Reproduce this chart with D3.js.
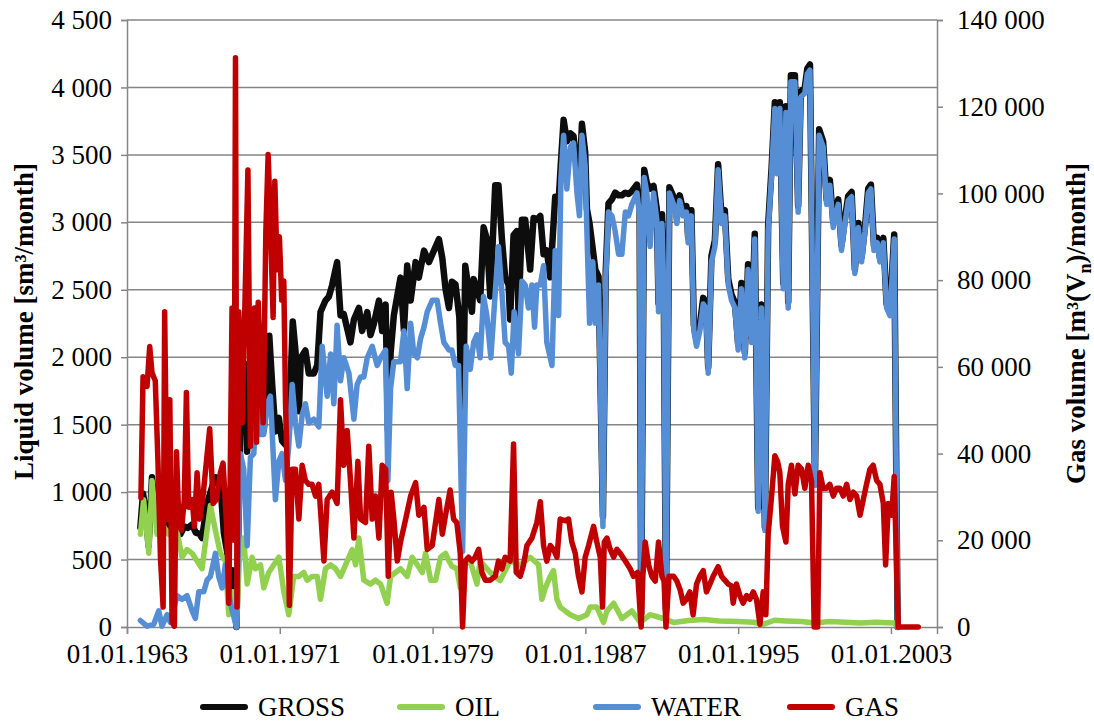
<!DOCTYPE html>
<html>
<head>
<meta charset="utf-8">
<script src="https://cdn.jsdelivr.net/npm/d3@7"></script>
<style>
  html, body { margin: 0; padding: 0; background: #fff; }
  svg { display: block; }
  text { font-family: "Liberation Serif", "Times New Roman", serif; fill: #000; }
</style>
</head>
<body>
<svg id="chart" width="1094" height="722"></svg>
<script>
// Monthly production history, [decimal year, value]
const gross = [[1963.70,740],[1963.84,990],[1963.97,870],[1964.13,600],[1964.31,1110],[1964.45,880],[1964.57,800],[1964.75,760],[1964.92,745],[1965.10,760],[1965.35,720],[1965.60,700],[1965.80,690],[1966.00,745],[1966.20,735],[1966.41,760],[1966.60,700],[1966.80,690],[1966.93,660],[1967.19,910],[1967.37,1000],[1967.55,1080],[1967.65,1110],[1967.89,1060],[1968.07,700],[1968.24,560],[1968.40,300],[1968.55,420],[1968.73,0],[1968.94,1500],[1969.11,1700],[1969.20,1950],[1969.29,1300],[1969.46,1650],[1969.64,1900],[1969.81,2050],[1969.99,1800],[1970.16,1460],[1970.34,1800],[1970.45,2160],[1970.60,1800],[1970.77,1450],[1970.95,1550],[1971.12,1380],[1971.30,1350],[1971.47,1450],[1971.68,2265],[1971.82,2050],[1972.00,1600],[1972.10,1995],[1972.34,2050],[1972.52,1880],[1972.78,1880],[1972.96,1940],[1973.13,2335],[1973.39,2420],[1973.57,2450],[1973.74,2535],[1974.00,2705],[1974.18,2310],[1974.35,2320],[1974.70,2110],[1974.88,2280],[1975.14,2365],[1975.31,2195],[1975.58,2335],[1975.75,2165],[1975.93,2250],[1976.19,2420],[1976.36,2195],[1976.54,2390],[1976.66,1460],[1976.80,2025],[1976.97,2310],[1977.32,2590],[1977.50,2195],[1977.67,2680],[1977.85,2420],[1978.11,2705],[1978.28,2590],[1978.55,2790],[1978.81,2705],[1979.07,2790],[1979.33,2875],[1979.51,2735],[1979.68,2505],[1979.86,2365],[1980.01,2560],[1980.20,2540],[1980.40,2300],[1980.57,1300],[1980.71,2678],[1980.88,2508],[1981.06,2337],[1981.15,2579],[1981.32,2508],[1981.49,2422],[1981.67,2963],[1981.84,2877],[1982.02,2451],[1982.28,3275],[1982.45,3275],[1982.63,2877],[1982.80,2593],[1982.98,2536],[1983.06,2280],[1983.24,2906],[1983.41,2934],[1983.50,2308],[1983.68,3019],[1983.85,3019],[1984.11,2650],[1984.29,3033],[1984.46,3019],[1984.64,3048],[1984.81,2763],[1984.98,2792],[1985.16,2593],[1985.42,3190],[1985.60,3161],[1985.72,3450],[1985.86,3760],[1986.03,3600],[1986.21,3660],[1986.38,3640],[1986.56,3400],[1986.69,3300],[1986.82,3730],[1986.99,3520],[1987.08,3100],[1987.22,2990],[1987.39,2800],[1987.52,2650],[1987.69,2600],[1987.92,820],[1988.07,2650],[1988.21,3140],[1988.39,3170],[1988.56,3220],[1988.74,3200],[1988.91,3200],[1989.09,3220],[1989.26,3210],[1989.43,3230],[1989.70,3280],[1989.84,3100],[1989.92,100],[1990.08,3390],[1990.22,3290],[1990.39,3250],[1990.57,3270],[1990.74,3100],[1990.83,2400],[1991.01,3060],[1991.10,2620],[1991.22,130],[1991.40,3260],[1991.62,3190],[1991.79,3060],[1991.94,3200],[1992.12,3090],[1992.29,3120],[1992.38,2890],[1992.55,3090],[1992.68,2240],[1992.82,2125],[1992.99,2240],[1993.17,2440],[1993.31,2410],[1993.43,1925],[1993.60,2750],[1993.78,2865],[1993.95,3430],[1994.13,3035],[1994.30,3090],[1994.48,2580],[1994.65,2465],[1994.83,2405],[1995.00,2095],[1995.17,2550],[1995.35,2035],[1995.52,2690],[1995.70,2150],[1995.87,2915],[1996.05,885],[1996.22,2390],[1996.40,736],[1996.57,2980],[1996.75,3405],[1996.92,3890],[1997.04,3405],[1997.18,3890],[1997.36,2550],[1997.50,3860],[1997.62,2410],[1997.76,4090],[1997.97,4090],[1998.14,3120],[1998.28,3970],[1998.49,4000],[1998.62,4140],[1998.76,4170],[1999.02,1080],[1999.24,3690],[1999.45,3600],[1999.63,3170],[1999.80,3315],[1999.98,3000],[2000.24,3170],[2000.41,2830],[2000.59,3025],[2000.76,3195],[2000.94,3225],[2001.11,2650],[2001.29,2995],[2001.46,2740],[2001.64,2965],[2001.81,3250],[2001.95,3280],[2002.11,2825],[2002.28,2885],[2002.42,2740],[2002.60,2885],[2002.77,2395],[2002.95,2340],[2003.17,2910],[2003.35,0]];

const oil = [[1963.70,688],[1963.87,944],[1964.14,546],[1964.31,1086],[1964.57,688],[1964.92,745],[1965.18,688],[1965.53,773],[1965.88,517],[1966.14,574],[1966.41,546],[1966.67,489],[1966.93,432],[1967.19,716],[1967.37,901],[1967.63,716],[1967.89,546],[1968.15,489],[1968.33,91],[1968.55,262],[1968.73,0],[1968.90,560],[1969.11,660],[1969.29,318],[1969.55,517],[1969.72,432],[1969.99,461],[1970.16,290],[1970.42,404],[1970.69,461],[1970.95,517],[1971.21,262],[1971.47,91],[1971.73,375],[1972.00,375],[1972.26,404],[1972.43,347],[1972.69,375],[1972.96,375],[1973.13,205],[1973.39,432],[1973.66,461],[1973.92,432],[1974.18,375],[1974.53,489],[1974.79,574],[1974.97,461],[1975.14,660],[1975.40,347],[1975.75,318],[1976.01,347],[1976.28,318],[1976.62,176],[1976.80,375],[1977.06,404],[1977.32,432],[1977.67,375],[1977.93,517],[1978.20,461],[1978.46,404],[1978.63,546],[1978.90,347],[1979.16,347],[1979.42,517],[1979.68,546],[1979.86,489],[1980.01,450],[1980.27,432],[1980.45,290],[1980.62,461],[1980.97,489],[1981.32,318],[1981.49,489],[1982.02,404],[1982.54,344],[1983.06,489],[1983.59,461],[1984.11,517],[1984.55,461],[1984.72,205],[1984.90,290],[1985.16,375],[1985.33,418],[1985.51,205],[1985.68,148],[1985.94,119],[1986.21,91],[1986.64,63],[1987.08,91],[1987.25,148],[1987.60,148],[1987.95,34],[1988.13,119],[1988.48,176],[1988.91,63],[1989.43,119],[1989.87,34],[1990.39,91],[1991.09,63],[1991.62,34],[1992.40,48],[1993.20,55],[1994.00,45],[1995.00,40],[1995.80,35],[1996.30,20],[1996.90,50],[1997.50,45],[1998.30,40],[1999.00,30],[1999.80,40],[2000.60,35],[2001.40,30],[2002.20,35],[2003.17,30],[2003.35,0]];

const water = [[1963.70,48],[1964.05,6],[1964.40,20],[1964.66,119],[1964.83,6],[1965.10,91],[1965.27,34],[1965.62,233],[1965.88,205],[1966.14,233],[1966.41,119],[1966.58,63],[1966.76,262],[1967.02,262],[1967.19,347],[1967.37,375],[1967.63,546],[1967.80,375],[1967.98,290],[1968.15,460],[1968.41,176],[1968.73,0],[1968.94,1285],[1969.11,1171],[1969.29,603],[1969.46,1257],[1969.64,1285],[1969.81,1797],[1969.99,1427],[1970.16,1427],[1970.34,1655],[1970.51,1711],[1970.77,944],[1970.95,1228],[1971.12,1285],[1971.30,1086],[1971.47,1342],[1971.65,1797],[1971.82,1512],[1972.00,1342],[1972.17,1569],[1972.34,1655],[1972.52,1512],[1972.78,1541],[1973.04,1484],[1973.22,2081],[1973.48,1711],[1973.66,2024],[1973.83,1655],[1974.00,2237],[1974.18,1825],[1974.35,1996],[1974.62,1882],[1974.88,1541],[1975.05,1797],[1975.23,1854],[1975.40,1854],[1975.58,1996],[1975.84,2081],[1976.10,1939],[1976.28,1996],[1976.54,2053],[1976.66,1086],[1976.80,1768],[1976.97,1967],[1977.32,1967],[1977.50,2195],[1977.67,1768],[1977.85,2252],[1978.02,2024],[1978.20,1996],[1978.37,2138],[1978.55,2223],[1978.72,2337],[1978.98,2422],[1979.24,2422],[1979.42,2252],[1979.59,2110],[1979.86,2053],[1980.01,2053],[1980.19,1939],[1980.36,1939],[1980.57,560],[1980.76,2081],[1980.97,1910],[1981.15,2110],[1981.32,2166],[1981.49,1996],[1981.67,2451],[1981.84,2309],[1982.05,1996],[1982.28,2479],[1982.45,2820],[1982.63,2479],[1982.80,2110],[1982.98,2081],[1983.12,1882],[1983.27,2337],[1983.50,2024],[1983.68,2564],[1983.85,2536],[1984.02,2365],[1984.20,2536],[1984.34,2223],[1984.46,2536],[1984.64,2536],[1984.81,2678],[1984.98,2110],[1985.25,1939],[1985.42,2792],[1985.60,2309],[1985.72,3332],[1985.86,3645],[1986.03,3247],[1986.21,3559],[1986.38,3588],[1986.56,3218],[1986.69,3048],[1986.82,3645],[1986.99,3417],[1987.08,2934],[1987.22,2252],[1987.39,2707],[1987.52,2252],[1987.69,2536],[1987.92,745],[1988.07,2593],[1988.21,3076],[1988.39,3048],[1988.56,2934],[1988.74,2763],[1988.91,2763],[1989.09,3076],[1989.26,3048],[1989.43,3133],[1989.70,3218],[1989.84,3048],[1989.92,63],[1990.08,3332],[1990.22,3218],[1990.39,2820],[1990.57,3218],[1990.74,3019],[1990.83,2337],[1991.01,2991],[1991.10,2536],[1991.22,80],[1991.40,3218],[1991.62,3133],[1991.79,2991],[1991.94,3161],[1992.12,3048],[1992.29,3076],[1992.38,2849],[1992.55,3048],[1992.68,2195],[1992.82,2081],[1992.99,2195],[1993.17,2394],[1993.31,2365],[1993.43,1882],[1993.60,2707],[1993.78,2820],[1993.95,3389],[1994.13,2991],[1994.30,3048],[1994.48,2536],[1994.65,2422],[1994.83,2365],[1995.00,2053],[1995.17,2508],[1995.35,1996],[1995.52,2650],[1995.70,2110],[1995.87,2877],[1996.05,859],[1996.22,2365],[1996.40,716],[1996.57,2934],[1996.75,3360],[1996.92,3844],[1997.04,3360],[1997.18,3844],[1997.36,2508],[1997.50,3815],[1997.62,2365],[1997.76,4043],[1997.97,4043],[1998.14,3076],[1998.28,3929],[1998.49,3957],[1998.62,4100],[1998.76,4128],[1999.02,1050],[1999.24,3645],[1999.45,3559],[1999.63,3133],[1999.80,3275],[1999.98,2962],[2000.24,3133],[2000.41,2792],[2000.59,2991],[2000.76,3161],[2000.94,3190],[2001.11,2621],[2001.29,2962],[2001.46,2707],[2001.64,2934],[2001.81,3218],[2001.95,3247],[2002.11,2792],[2002.28,2849],[2002.42,2707],[2002.60,2849],[2002.77,2365],[2002.95,2308],[2003.17,2877],[2003.35,0]];

const gas = [[1963.73,29800],[1963.84,57700],[1964.05,55500],[1964.19,64700],[1964.31,58600],[1964.48,56800],[1964.62,38200],[1964.75,16100],[1964.89,4600],[1964.97,72700],[1965.10,24900],[1965.24,52400],[1965.36,1060],[1965.48,180],[1965.59,40400],[1965.71,24900],[1965.85,22300],[1966.00,29400],[1966.11,54100],[1966.23,27600],[1966.41,29400],[1966.53,23200],[1966.67,35600],[1966.81,24900],[1966.98,30200],[1967.16,38200],[1967.33,45700],[1967.51,28500],[1967.68,29400],[1967.89,35600],[1968.03,37800],[1968.21,24100],[1968.33,5500],[1968.50,73600],[1968.60,20000],[1968.68,131300],[1968.76,4600],[1968.85,72700],[1969.03,47100],[1969.15,70100],[1969.33,105400],[1969.46,41700],[1969.55,69200],[1969.67,73600],[1969.78,42600],[1969.87,74900],[1969.99,60300],[1970.13,47100],[1970.27,91300],[1970.39,109000],[1970.51,93000],[1970.65,71400],[1970.74,102800],[1970.86,82400],[1970.98,90000],[1971.10,75400],[1971.21,79800],[1971.30,51500],[1971.38,38200],[1971.50,5000],[1971.65,36400],[1971.82,36400],[1972.00,24900],[1972.17,37300],[1972.34,33800],[1972.52,32900],[1972.69,32900],[1972.87,30200],[1973.04,32900],[1973.31,15200],[1973.48,29400],[1973.74,31100],[1974.00,28500],[1974.18,52400],[1974.35,37300],[1974.53,45300],[1974.70,33800],[1974.88,20500],[1975.09,38200],[1975.23,24900],[1975.49,24100],[1975.66,41700],[1975.84,24900],[1976.01,30200],[1976.19,20500],[1976.36,37300],[1976.54,36400],[1976.68,11700],[1976.83,31100],[1976.97,24900],[1977.15,15200],[1977.32,19600],[1977.59,24900],[1977.85,30200],[1978.11,33300],[1978.28,25800],[1978.55,27600],[1978.72,17900],[1978.98,18800],[1979.33,29400],[1979.51,21400],[1979.68,25800],[1979.92,31600],[1980.10,24900],[1980.27,24100],[1980.45,17000],[1980.57,0],[1980.71,15200],[1980.88,16100],[1981.06,15200],[1981.23,16100],[1981.41,17900],[1981.58,12600],[1981.76,10800],[1982.02,10800],[1982.28,11700],[1982.45,15200],[1982.63,13400],[1982.80,16100],[1983.06,15200],[1983.24,42200],[1983.38,12600],[1983.59,11700],[1983.76,14300],[1983.94,18800],[1984.20,20500],[1984.46,24100],[1984.64,28900],[1984.81,18800],[1984.98,15200],[1985.16,18800],[1985.33,17900],[1985.51,16100],[1985.68,24900],[1985.94,24500],[1986.12,24900],[1986.29,19600],[1986.47,17000],[1986.64,11700],[1986.82,8100],[1986.99,16100],[1987.17,18800],[1987.43,23200],[1987.60,19600],[1987.78,16100],[1987.90,4600],[1987.99,19600],[1988.13,20500],[1988.30,17900],[1988.48,16100],[1988.65,17900],[1988.82,17000],[1989.09,15200],[1989.35,13400],[1989.52,11700],[1989.73,12600],[1989.92,0],[1990.01,11700],[1990.13,19600],[1990.31,14300],[1990.48,11700],[1990.66,10600],[1990.83,19600],[1991.01,11700],[1991.12,10600],[1991.22,0],[1991.38,11700],[1991.62,11700],[1991.79,10600],[1991.97,8500],[1992.12,5500],[1992.29,6400],[1992.47,8100],[1992.64,2800],[1992.82,9900],[1992.99,11700],[1993.17,13000],[1993.34,8100],[1993.52,9900],[1993.69,11700],[1993.95,13900],[1994.13,11700],[1994.30,10800],[1994.48,9900],[1994.65,9500],[1994.74,5500],[1994.91,9900],[1995.09,7250],[1995.26,5500],[1995.44,7250],[1995.61,6400],[1995.79,8100],[1995.96,6400],[1996.14,600],[1996.31,8100],[1996.45,2800],[1996.57,21400],[1996.75,30200],[1996.92,39500],[1997.06,38200],[1997.18,35600],[1997.32,23200],[1997.50,19600],[1997.62,32900],[1997.79,37300],[1997.97,30700],[1998.14,37300],[1998.32,36400],[1998.49,32000],[1998.67,37300],[1998.84,33800],[1998.98,0],[1999.16,0],[1999.28,35600],[1999.45,32000],[1999.63,32000],[1999.80,32900],[1999.98,30200],[2000.15,32000],[2000.33,32000],[2000.50,30200],[2000.68,32900],[2000.85,29400],[2001.03,31100],[2001.20,30200],[2001.38,25800],[2001.55,29400],[2001.72,32900],[2001.90,36400],[2002.07,37300],[2002.25,33800],[2002.42,32900],[2002.60,28500],[2002.72,14300],[2002.86,28500],[2003.04,25800],[2003.17,34700],[2003.38,0],[2004.43,0]];

const xTickYears = [1963, 1971, 1979, 1987, 1995, 2003];
const liquidTicks = [0, 500, 1000, 1500, 2000, 2500, 3000, 3500, 4000, 4500];
const gasTicks = [0, 20000, 40000, 60000, 80000, 100000, 120000, 140000];
const seriesNames = ["GROSS", "OIL", "WATER", "GAS"];

// ---- layout ----
const svg = d3.select("#chart");
const plot = { left: 127, right: 937, top: 20, bottom: 627 };
const gridColor = "#868686";
const colors = { GROSS: "#0d0d0d", OIL: "#92d050", WATER: "#558ed5", GAS: "#c00000" };
const fontSize = 27;
const serif = "Liberation Serif, Times New Roman, serif";

function toDate(y) {
  const yr = Math.floor(y);
  const a = Date.UTC(yr, 0, 1), b = Date.UTC(yr + 1, 0, 1);
  return new Date(a + (y - yr) * (b - a));
}

const x = d3.scaleUtc().domain([toDate(1963), toDate(2005.41)]).range([plot.left, plot.right]);
const yL = d3.scaleLinear().domain([0, 4500]).range([plot.bottom, plot.top]);
const yR = d3.scaleLinear().domain([0, 140000]).range([plot.bottom, plot.top]);

const loc = d3.formatLocale({ decimal: ",", thousands: " ", grouping: [3], currency: ["", ""] });
const fmt = loc.format(",d");

// horizontal gridlines
svg.append("g").selectAll("line").data(liquidTicks.slice(1)).join("line")
  .attr("x1", plot.left).attr("x2", plot.right)
  .attr("y1", d => yL(d)).attr("y2", d => yL(d))
  .attr("stroke", gridColor).attr("stroke-width", 1.5);

// axes
const axL = svg.append("g").attr("transform", `translate(${plot.left},0)`)
  .call(d3.axisLeft(yL).tickValues(liquidTicks).tickFormat(fmt).tickSize(6).tickPadding(9));
const axR = svg.append("g").attr("transform", `translate(${plot.right},0)`)
  .call(d3.axisRight(yR).tickValues(gasTicks).tickFormat(fmt).tickSize(6).tickPadding(14));
const axB = svg.append("g").attr("transform", `translate(0,${plot.bottom})`)
  .call(d3.axisBottom(x).tickValues(xTickYears.map(y => toDate(y)))
    .tickFormat(d3.utcFormat("%d.%m.%Y")).tickSize(7).tickPadding(10));

[axL, axR, axB].forEach(ax => {
  ax.attr("font-family", serif).attr("font-size", fontSize);
  ax.select(".domain").attr("stroke", gridColor).attr("stroke-width", 1.5);
  ax.selectAll(".tick line").attr("stroke", gridColor).attr("stroke-width", 1.5);
  ax.selectAll(".tick text").attr("fill", "#000");
});

// series lines
const lineL = d3.line().x(d => x(toDate(d[0]))).y(d => yL(d[1]));
const lineR = d3.line().x(d => x(toDate(d[0]))).y(d => yR(d[1]));
const series = [
  { name: "GROSS", data: gross, line: lineL, w: 6.5 },
  { name: "OIL", data: oil, line: lineL, w: 5.5 },
  { name: "WATER", data: water, line: lineL, w: 5.5 },
  { name: "GAS", data: gas, line: lineR, w: 5.5 }
];
svg.append("g").selectAll("path").data(series).join("path")
  .attr("d", s => s.line(s.data))
  .attr("fill", "none")
  .attr("stroke", s => colors[s.name])
  .attr("stroke-width", s => s.w)
  .attr("stroke-linejoin", "round")
  .attr("stroke-linecap", "round");

// axis titles
const midY = (plot.top + plot.bottom) / 2;
const tL = svg.append("text")
  .attr("transform", `translate(33,${midY - 2}) rotate(-90)`)
  .attr("text-anchor", "middle").attr("font-size", fontSize).attr("font-weight", "bold");
tL.append("tspan").text("Liquid volume [sm³/month]");

const tR = svg.append("text")
  .attr("transform", `translate(1085,${midY}) rotate(-90)`)
  .attr("text-anchor", "middle").attr("font-size", fontSize).attr("font-weight", "bold");
tR.append("tspan").text("Gas volume [m³(V");
tR.append("tspan").attr("font-size", 18).attr("dy", 6).text("n");
tR.append("tspan").attr("dy", -6).text(")/month]");

// legend
const legendX = [203, 400, 596, 790];
const lg = svg.append("g").selectAll("g").data(seriesNames).join("g")
  .attr("transform", (d, i) => `translate(${legendX[i]},707)`);
lg.append("line").attr("x1", 0).attr("x2", 42).attr("y1", 0).attr("y2", 0)
  .attr("stroke", d => colors[d]).attr("stroke-width", 6).attr("stroke-linecap", "round");
lg.append("text").attr("x", 55).attr("y", 9).attr("font-size", fontSize).text(d => d);
</script>
</body>
</html>
